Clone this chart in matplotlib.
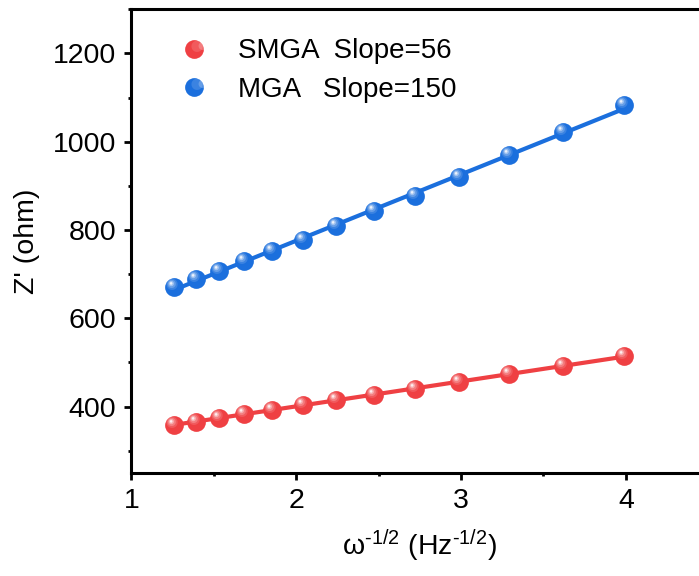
import numpy as np
import matplotlib
matplotlib.use("Agg")
import matplotlib.pyplot as plt
from matplotlib.path import Path
from matplotlib.legend_handler import HandlerTuple
from matplotlib.ticker import MultipleLocator

plt.rcParams['font.family'] = ['Liberation Sans', 'DejaVu Sans']
plt.rcParams['mathtext.fontset'] = 'custom'
plt.rcParams['mathtext.rm'] = 'Liberation Sans'
plt.rcParams['mathtext.it'] = 'Liberation Sans:italic'
plt.rcParams['mathtext.default'] = 'regular'

# ---- data ----
x_vals = [1.26, 1.39, 1.53, 1.68, 1.85, 2.04, 2.24, 2.47, 2.72, 2.99, 3.29, 3.62, 3.99]
smga_z = [358, 366, 374, 383, 392, 403, 414, 427, 440, 456, 473, 492, 514]
mga_z = [670, 688, 707, 729, 752, 778, 808, 842, 878, 921, 969, 1022, 1082]
series_names = ["SMGA  Slope=56", "MGA   Slope=150"]
x_ticks = [1, 2, 3, 4]
y_ticks = [400, 600, 800, 1000, 1200]

RED = "#EF4043"
BLUE = "#1B6FDD"

fig = plt.figure(figsize=(6.99, 5.76), dpi=100)
ax = fig.add_axes([0.1881, 0.1793, 0.8252, 0.8046])


def highlight_marker(cx, cy, r):
    t = np.linspace(0, 2 * np.pi, 40)
    verts = np.column_stack([cx + r * np.cos(t), cy + r * np.sin(t)])
    codes = [Path.MOVETO] + [Path.LINETO] * (len(verts) - 2) + [Path.CLOSEPOLY]
    m = np.max(np.abs(verts))
    return Path(verts, codes), m / 0.5


layers = [(-0.13, 0.17, 0.30, 0.14),
          (-0.15, 0.19, 0.22, 0.22),
          (-0.17, 0.21, 0.14, 0.38),
          (-0.18, 0.22, 0.07, 0.8)]
hl = [(highlight_marker(cx, cy, r), a) for cx, cy, r, a in layers]

MS = 13.5
x = np.array(x_vals)
handles = []
for y, col in [(smga_z, RED), (mga_z, BLUE)]:
    y = np.array(y)
    k, b = np.polyfit(x, y, 1)
    ax.plot(x, k * x + b, color=col, lw=3.0, zorder=2, solid_capstyle='butt')
    h0, = ax.plot(x, y, 'o', ms=MS, color=col, mec=col, mew=0, zorder=3)
    hh = [h0]
    for i, ((p, f), a) in enumerate(hl):
        h, = ax.plot(x, y, ls='none', marker=p, ms=MS * f, color='white',
                     alpha=a, mew=0, zorder=4 + i)
        hh.append(h)
    handles.append(tuple(hh))

ax.set_xlim(1, 4.5)
ax.set_ylim(250, 1300)
ax.set_xticks(x_ticks)
ax.set_yticks(y_ticks)
ax.xaxis.set_minor_locator(MultipleLocator(0.5))
ax.yaxis.set_minor_locator(MultipleLocator(100))

for s in ax.spines.values():
    s.set_linewidth(2.2)
ax.tick_params(which='major', direction='out', length=5, width=2,
               labelsize=20.5, pad=6)
ax.tick_params(which='minor', direction='out', length=2.5, width=2)
ax.tick_params(top=False, right=False, which='both')

ax.set_xlabel(r"ω$^{\text{-}1/2}$ (Hz$^{\text{-}1/2}$)", fontsize=20.5, labelpad=10)
ax.set_ylabel("Z' (ohm)", fontsize=20.5, labelpad=9)

ax.legend(handles, series_names, handler_map={tuple: HandlerTuple(ndivide=None)},
          loc='upper left', bbox_to_anchor=(0.103, 0.937), frameon=False,
          fontsize=20, handlelength=1.0, handletextpad=0.68, labelspacing=0.45,
          borderpad=0, borderaxespad=0)

fig.savefig("out.png", dpi=100)
